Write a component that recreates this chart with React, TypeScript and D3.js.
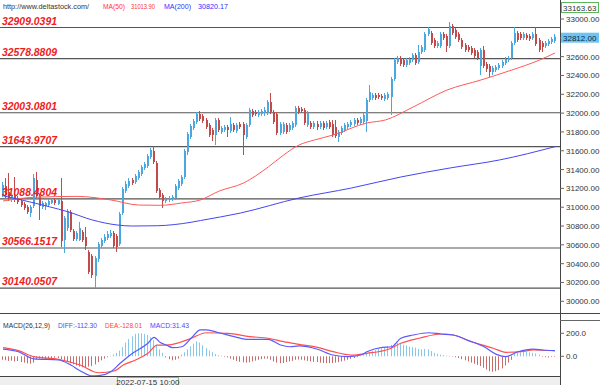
import React from 'react';
import * as d3 from 'd3';

// [open, high, low, close]
const candles: number[][] = [
[31130,31268,31108,31236],[31225,31310,31098,31130],[31162,31363,31066,31098],[31077,31151,31055,31130],
[31119,31321,31055,31077],[31098,31119,31034,31055],[31066,31087,31002,31023],[31034,31055,30970,30992],
[31002,31023,30928,30949],[30938,31023,30896,31002],[31013,31353,30992,31310],[31289,31374,31098,31119],
[31119,31140,30864,31013],[31002,31066,30981,31045],[31013,31055,30970,31045],[31023,31087,31002,31066],
[31045,31098,31034,31077],[31077,31098,31023,31045],[31034,31087,31023,31077],[31066,31310,30577,30641],
[30651,30906,30513,30885],[30779,30981,30747,30960],[30949,30970,30736,30758],[30747,30768,30641,30662],
[30662,30747,30641,30726],[30651,30843,30641,30779],[30736,30758,30630,30651],[30683,30790,30545,30588],
[30524,30545,30290,30312],[30481,30503,30248,30279],[30269,30481,30141,30460],[30450,30630,30418,30609],
[30588,30673,30566,30651],[30641,30715,30620,30683],[30673,30747,30651,30715],[30694,30758,30673,30726],
[30726,30747,30566,30588],[30694,30715,30524,30577],[30609,30949,30588,30928],[30938,31215,30917,31194],
[31172,31279,31151,31247],[31225,31310,31204,31279],[31289,31310,31236,31257],[31268,31353,31247,31332],
[31310,31395,31289,31374],[31353,31448,31332,31427],[31417,31480,31395,31459],[31438,31566,31417,31544],
[31534,31629,31512,31608],[31597,31650,31459,31480],[31470,31491,31151,31172],[31183,31204,31087,31108],
[31130,31151,30992,31066],[31066,31108,31045,31087],[31077,31119,31055,31098],[31087,31130,31066,31108],
[31098,31247,31077,31225],[31204,31300,31183,31279],[31247,31342,31225,31321],[31321,31619,31300,31597],
[31587,31799,31555,31778],[31746,31884,31725,31863],[31842,31937,31820,31916],[31905,32012,31884,31990],
[31990,32022,31916,31937],[31969,31990,31895,31916],[31927,31948,31831,31852],[31874,31895,31746,31767],
[31820,31842,31704,31767],[31767,31948,31661,31927],[31927,31948,31799,31820],[31799,31863,31778,31842],
[31820,31874,31799,31852],[31852,31874,31746,31820],[31810,31958,31789,31884],[31874,31895,31799,31820],
[31810,31895,31789,31874],[31884,31905,31831,31852],[31884,31905,31555,31767],[31746,31895,31725,31874],
[31874,32054,31852,32033],[32022,32044,31958,31980],[32012,32033,31969,31990],[31980,32033,31958,32012],
[31990,32044,31969,32022],[32001,32065,31969,32033],[32001,32139,31980,32118],[32118,32214,31990,32012],
[32012,32033,31884,31905],[31990,32012,31767,31789],[31789,31905,31767,31884],[31799,31905,31778,31884],
[31874,31895,31778,31799],[31820,31895,31799,31874],[31842,31916,31820,31895],[31874,32076,31852,32054],
[32054,32076,31990,32012],[32044,32065,32001,32022],[32033,32054,31874,31895],[31874,32022,31852,32001],
[31895,31916,31831,31852],[31852,31916,31831,31895],[31884,31916,31820,31852],[31852,31916,31831,31895],
[31895,31916,31820,31842],[31852,31916,31831,31895],[31905,31927,31831,31852],[31884,31927,31746,31767],
[31852,31927,31735,31757],[31746,31820,31693,31799],[31789,31863,31767,31842],[31820,31895,31799,31874],
[31852,31905,31831,31884],[31874,31927,31852,31905],[31884,31948,31863,31927],[31927,31948,31874,31895],
[31895,31958,31874,31937],[31905,32001,31884,31980],[31916,32161,31799,32139],[32139,32299,32118,32224],
[32161,32214,32139,32192],[32192,32214,32139,32161],[32192,32214,32150,32171],[32182,32203,32139,32161],
[32150,32214,32129,32192],[32161,32224,32139,32203],[32171,32384,31980,32362],[32362,32586,32341,32564],
[32543,32607,32522,32586],[32586,32607,32501,32522],[32564,32586,32490,32511],[32511,32586,32490,32564],
[32532,32596,32511,32575],[32564,32639,32543,32617],[32617,32639,32511,32532],[32543,32724,32522,32649],
[32649,32724,32628,32703],[32671,32862,32649,32841],[32841,32915,32819,32894],[32851,32873,32724,32745],
[32777,32798,32692,32713],[32713,32766,32692,32745],[32713,32862,32692,32841],[32841,32862,32777,32798],
[32819,32841,32649,32713],[32713,32968,32692,32926],[32926,32947,32830,32851],[32883,32904,32788,32809],
[32841,32862,32756,32777],[32777,32798,32681,32703],[32724,32745,32649,32671],[32703,32724,32649,32671],
[32692,32713,32617,32639],[32671,32692,32586,32607],[32649,32671,32564,32586],[32501,32692,32405,32671],
[32671,32713,32479,32501],[32522,32543,32437,32469],[32501,32522,32384,32437],[32437,32501,32405,32479],
[32458,32511,32437,32490],[32479,32532,32458,32511],[32501,32564,32479,32543],[32532,32596,32511,32575],
[32564,32607,32543,32586],[32586,32766,32564,32745],[32745,32915,32724,32851],[32851,32873,32756,32777],
[32841,32862,32777,32798],[32798,32862,32777,32841],[32830,32851,32777,32798],[32819,32841,32766,32788],
[32798,32862,32777,32841],[32841,32915,32713,32734],[32777,32798,32649,32671],[32745,32766,32649,32703],
[32713,32766,32692,32745],[32734,32788,32713,32766],[32756,32809,32734,32788],[32766,32841,32745,32812],
];

const ma50Idx = [0,10,24,35,44,51,58,64,70,78,86,91,96,101,107,118,124,133,144,155,165,174,179];
const ma50Val = [31066,31105,31115,31077,31023,31020,31045,31077,31170,31257,31427,31555,31661,31714,31767,31895,31927,32065,32245,32352,32458,32564,32639];

const ma200Idx = [0,6,15,21,29,37,42,50,61,64,77,96,113,129,145,161,179];
const ma200Val = [31122,31077,31005,30952,30864,30811,30800,30803,30840,30858,30938,31098,31204,31321,31417,31502,31643];

const diffIdx = [0,5,10,18,22,25,29,31,35,38,42,47,49,51,53,55,58,61,64,66,70,75,79,86,90,93,96,102,107,112,116,118,123,126,129,133,138,142,146,151,156,160,163,167,172,175,179];
const diffVal = [63,40,-23,-32,-76,-125,-171,-168,-134,-61,26,113,165,120,98,75,83,157,229,229,205,171,148,148,98,83,90,61,11,-3,11,40,78,83,157,185,205,194,185,136,83,17,-3,40,63,55,49];

const deaIdx = [0,5,10,18,25,31,36,39,43,47,50,53,57,61,66,73,80,86,91,96,102,107,113,118,125,129,135,142,146,152,159,163,168,172,179];
const deaVal = [75,49,-3,-26,-76,-143,-128,-76,-32,26,98,98,118,157,205,200,171,157,127,104,78,40,11,26,61,113,157,194,185,127,70,35,40,55,49];

const macdHist = [
-30,-35,-40,-38,-45,-42,-50,-55,-62,-65,-55,
-25,-20,-18,-22,-15,-18,-12,-15,
-25,-40,-50,-60,-70,-80,-90,-95,-95,-90,-85,-70,-50,
-35,-20,-8,5,15,
30,50,80,120,
150,175,195,200,200,195,185,165,
140,100,60,30,
-10,-25,-35,-30,-20,
15,35,60,85,110,130,120,95,
70,50,35,20,10,
5,-5,
-10,-20,-30,-40,-48,-52,-55,-52,-45,-38,-30,-25,-20,-20,-30,-45,-55,-60,-58,-50,-45,-40,-30,-28,
-30,-35,-40,-45,-48,-50,-55,-58,-60,-60,-58,-55,-50,-45,-38,-30,-22,-15,-8,
5,10,
20,35,45,55,65,70,80,90,100,110,115,110,100,95,85,80,75,65,60,65,60,45,30,
22,15,10,6,4,-3,-8,
-15,-25,-35,-45,-55,-65,-75,-85,-100,-115,-130,-135,-130,-120,-105,-80,-55,-30,
20,30,35,38,40,35,30,25,15,
-5,-8,-10,-6,-5,
];

const levels = [32909.0391, 32578.8809, 32003.0801, 31643.9707, 31088.4804, 30566.1517, 30140.0507];
const priceTicks = [33000,32800,32600,32400,32200,32000,31800,31600,31400,31200,31000,30800,30600,30400,30200,30000];
const macdTicks = [200, 0];
const topValue = 33163.63;
const lastPrice = 32812.0;
const cursorLabel = '2022-07-15 10:00';
const cursorIdx = 47;

// header texts: [text, color]
const headerTexts: [string, string][] = [
  ['http://www.deltastock.com/', '#333'],
  ['MA(50)', '#ff3030'],
  ['31013.90', '#ff3030'],
  ['MA(200)', '#3030ff'],
  ['30820.17', '#3030ff'],
];
const macdTexts: [string, string][] = [
  ['MACD(26,12,9)', '#333'],
  ['DIFF:-112.30', '#4a4aff'],
  ['DEA:-128.01', '#ff4040'],
  ['MACD:31.43', '#4a4aff'],
];

export default function App() {
  const W = 600, H = 385;
  const plotR = 560;
  const n = candles.length;
  const x = d3.scaleLinear().domain([0, n - 1]).range([3, 555]);
  const y = d3.scaleLinear().domain([30000, 33000]).range([301.3, 19]);
  const ym = d3.scaleLinear().domain([0, 200]).range([356.3, 333.3]);
  const blue = '#4aa7e0', red = '#c24a4a';
  const font = '"Liberation Sans", Arial, sans-serif';

  const mkLine = (idx: number[], sc: (v: number) => number) =>
    d3.line<number>().x((d, i) => x(idx[i])).y(d => sc(d)).curve(d3.curveMonotoneX);

  const ma50Path = mkLine(ma50Idx, y)(ma50Val) || '';
  const ma200Path = mkLine(ma200Idx, y)(ma200Val) || '';
  const diffPath = mkLine(diffIdx, ym)(diffVal) || '';
  const deaPath = mkLine(deaIdx, ym)(deaVal) || '';
  const cx = x(cursorIdx);
  const lastY = y(lastPrice);

  const headerPos = [[3, 86], [103, 22], [131, 24], [164, 27], [198, 30]];
  const macdPos = [[3, 47], [58, 39], [105, 37], [150, 39]];

  return (
    <svg width={W} height={H} style={{ position: 'absolute', left: 0, top: 0, background: '#fff' }}
      fontFamily={font}>
      <defs>
        <clipPath id="mainClip"><rect x={0} y={0} width={plotR} height={313} /></clipPath>
        <clipPath id="macdClip"><rect x={0} y={314} width={plotR} height={62} /></clipPath>
      </defs>
      <rect x={0} y={0} width={W} height={H} fill="#fff" />

      {/* level lines */}
      <g>
        {levels.map(l => (
          <line key={l} x1={0} x2={plotR} y1={y(l)} y2={y(l)} stroke="#555" strokeWidth={1.1} />
        ))}
      </g>

      {/* candles */}
      <g clipPath="url(#mainClip)">
        {candles.map((c, i) => {
          const [o, h, l, cl] = c;
          const rx = Math.round(x(i));
          const col = cl >= o ? blue : red;
          const top = y(Math.max(o, cl));
          const bot = y(Math.min(o, cl));
          return (
            <g key={i}>
              <rect x={rx - 1} y={y(h)} width={1} height={Math.max(1, y(l) - y(h))} fill={col} />
              <rect x={rx - 1} y={top} width={2} height={Math.max(1, bot - top)} fill={col} />
            </g>
          );
        })}
        <path d={ma50Path} fill="none" stroke="#ff5a5a" strokeWidth={1} />
        <path d={ma200Path} fill="none" stroke="#4646f0" strokeWidth={1} />
      </g>

      {/* level labels */}
      {levels.map(l => (
        <text key={'t' + l} x={2} y={y(l) - 3} fill="#f02020" fontSize={10.5} fontWeight="bold" fontStyle="italic"
          textLength={55} lengthAdjust="spacingAndGlyphs">
          {l.toFixed(4)}
        </text>
      ))}

      {/* top header */}
      {headerTexts.map(([t, c], i) => (
        <text key={'hd' + i} x={headerPos[i][0]} y={9} fontSize={7.6} fill={c}
          textLength={headerPos[i][1]} lengthAdjust="spacingAndGlyphs">{t}</text>
      ))}

      {/* separators and frame */}
      <line x1={plotR + 0.5} x2={plotR + 0.5} y1={0} y2={H} stroke="#444" strokeWidth={1} />
      <line x1={0} x2={W} y1={313.5} y2={313.5} stroke="#444" strokeWidth={1} />
      <line x1={plotR} x2={W} y1={320.5} y2={320.5} stroke="#666" strokeWidth={1} />

      {/* right price axis */}
      {priceTicks.map(t => (
        <g key={'p' + t}>
          <line x1={plotR} x2={plotR + 4} y1={y(t)} y2={y(t)} stroke="#666" />
          {Math.abs(y(t) - lastY) > 9 && (
            <text x={566} y={y(t) + 3} fontSize={8} fill="#333">{t.toFixed(2)}</text>
          )}
        </g>
      ))}
      <rect x={561.5} y={2.5} width={37} height={10} fill="#fff" stroke="#5cb85c" strokeWidth={1} />
      <text x={563} y={10.5} fontSize={8} fill="#333">{topValue.toFixed(2)}</text>
      <rect x={561} y={lastY - 4} width={38} height={10} fill="#6ec4f0" />
      <text x={563} y={lastY + 4} fontSize={8} fill="#0d2a45">{lastPrice.toFixed(2)}</text>

      {/* MACD pane */}
      <g clipPath="url(#macdClip)">
        {macdHist.map((v, i) => {
          const rx = Math.round(x(i)) - 0.5;
          return (
            <line key={'h' + i} x1={rx} x2={rx} y1={ym(0)} y2={ym(v)}
              stroke={v >= 0 ? '#86c7ea' : '#c96a6a'} strokeWidth={1} />
          );
        })}
        <path d={deaPath} fill="none" stroke="#ff5050" strokeWidth={1.2} />
        <path d={diffPath} fill="none" stroke="#5a5aff" strokeWidth={1.2} />
      </g>
      {macdTexts.map(([t, c], i) => (
        <text key={'md' + i} x={macdPos[i][0]} y={328} fontSize={7.8} fill={c}
          textLength={macdPos[i][1]} lengthAdjust="spacingAndGlyphs">{t}</text>
      ))}
      {macdTicks.map(t => (
        <g key={'m' + t}>
          <line x1={plotR} x2={plotR + 4} y1={ym(t)} y2={ym(t)} stroke="#666" />
          <text x={566} y={ym(t) + 3} fontSize={8} fill="#333">{t.toFixed(1)}</text>
        </g>
      ))}

      {/* bottom time strip */}
      <rect x={0} y={377} width={plotR} height={8} fill="#efefef" />
      <line x1={0} x2={plotR} y1={376.5} y2={376.5} stroke="#444" strokeWidth={1} />
      <rect x={cx - 30.5} y={377.5} width={61} height={8} fill="#f7f7f7" stroke="#7fbf7f" strokeWidth={1} />
      <text x={cx} y={384.5} fontSize={8} fill="#333" textAnchor="middle">{cursorLabel}</text>
    </svg>
  );
}
